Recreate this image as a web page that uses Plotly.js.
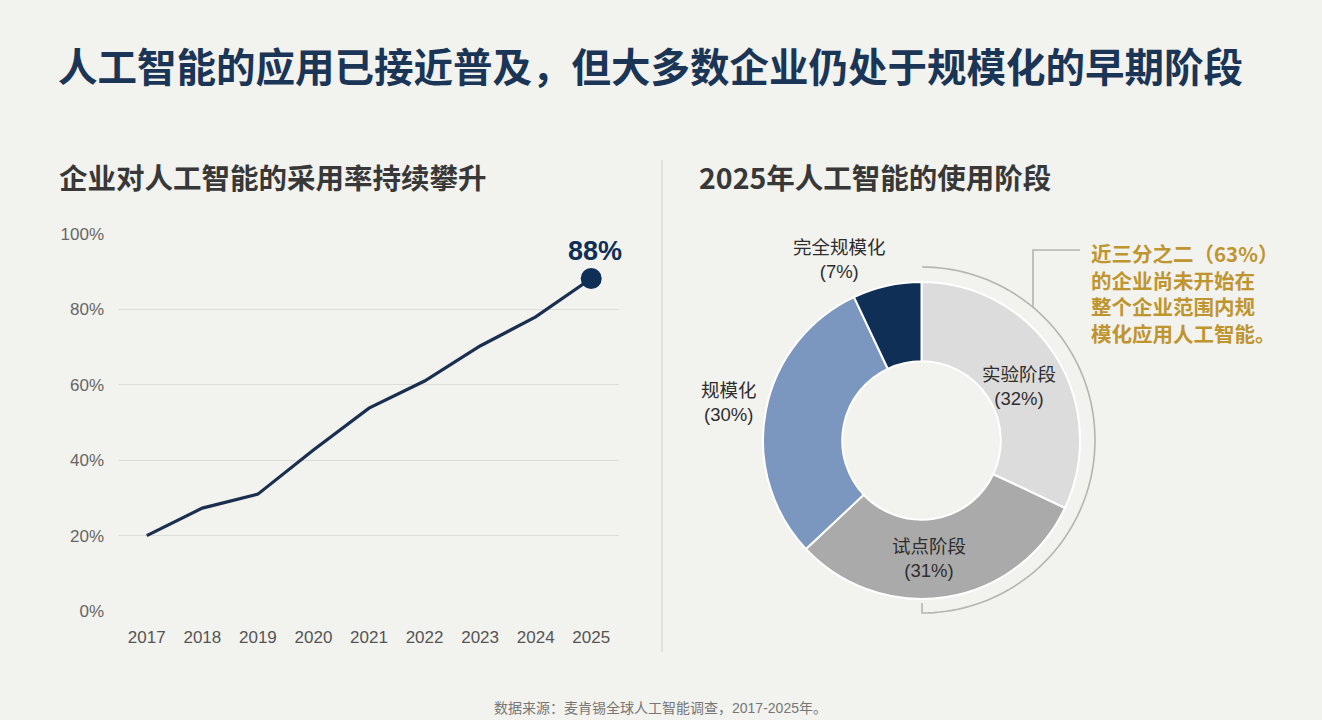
<!DOCTYPE html>
<html><head><meta charset="utf-8">
<script src="https://cdn.plot.ly/plotly-3.0.1.min.js"></script>
<style>html,body{margin:0;padding:0;background:#f2f2ee;}#chart{width:1322px;height:720px;}</style>
</head><body><div id="chart"></div>
<script>
// ---- data ----
const years = ['2017','2018','2019','2020','2021','2022','2023','2024','2025'];
const adoption = [20, 27.3, 31, 42.7, 53.8, 61, 70.3, 78, 88.2];
const yTicks = [0, 20, 40, 60, 80, 100];
const yTickText = ['0%', '20%', '40%', '60%', '80%', '100%'];
const stageLabels = ['实验阶段', '试点阶段', '规模化', '完全规模化'];
const stageValues = [32, 31, 30, 7];
const stageColors = ['#dcdcdc', '#aaaaaa', '#7b97c0', '#0f2f57'];
const headline = '88%';
const noteText = '近三分之二（63%）<br>的企业尚未开始在<br>整个企业范围内规<br>模化应用人工智能。';

const W = 1322, H = 720;
const px = x => x / W, py = y => 1 - y / H;
const FONT = 'Liberation Sans, Arial, "Noto Sans CJK SC", sans-serif';
const last = years.length - 1;

const traces = [
  { type: 'scatter', mode: 'lines', x: years, y: adoption,
    line: { color: '#1a2f50', width: 3.2 }, hoverinfo: 'skip', showlegend: false, cliponaxis: false },
  { type: 'scatter', mode: 'markers', x: [years[last]], y: [adoption[last]],
    marker: { color: '#0f2f57', size: 21 }, hoverinfo: 'skip', showlegend: false, cliponaxis: false },
  { type: 'pie', labels: stageLabels, values: stageValues, hole: 0.5, sort: false,
    direction: 'clockwise', rotation: 0, textinfo: 'none', hoverinfo: 'skip', showlegend: false,
    marker: { colors: stageColors, line: { color: '#ffffff', width: 2 } },
    domain: { x: [px(763), px(1080)], y: [py(599), py(282)] } }
];

// decorative bracket arc around the not-yet-scaled segments
const cx = 922, cy = 440, R = 173;
let arc = `M ${px(cx)} ${py(cy - R)}`;
for (let i = 1; i <= 90; i++) {
  const a = -Math.PI / 2 + Math.PI * i / 90;
  arc += ` L ${px(cx + R * Math.cos(a))} ${py(cy + R * Math.sin(a))}`;
}
arc += ` L ${px(cx)} ${py(cy + R - 10)}`;
const bx = 1033;
const by = cy - Math.sqrt(R * R - (bx - cx) * (bx - cx));
const bracket = `M ${px(1080)} ${py(250)} L ${px(bx)} ${py(250)} L ${px(bx)} ${py(by)}`;

const donutAnn = [
  [1019, 386], [929, 558], [729, 402], [839, 259]
].map((p, i) => ({
  xref: 'paper', yref: 'paper', x: px(p[0]), y: py(p[1]), xanchor: 'center', yanchor: 'middle',
  text: stageLabels[i] + '<br>(' + stageValues[i] + '%)', showarrow: false, align: 'center',
  font: { family: FONT, size: 18.5, color: '#2e2e2e' }
}));

const layout = {
  width: W, height: H,
  margin: { l: 0, r: 0, t: 0, b: 0 },
  paper_bgcolor: '#f2f2ee', plot_bgcolor: 'rgba(0,0,0,0)',
  font: { family: FONT },
  title: { text: '人工智能的应用已接近普及，但大多数企业仍处于规模化的早期阶段',
    x: px(58), xanchor: 'left', xref: 'paper', y: py(68), yanchor: 'middle', yref: 'paper',
    font: { family: '"Noto Sans CJK SC", sans-serif', size: 39.5, color: '#1a3556', weight: 'bold' } },
  xaxis: { domain: [px(119), px(619)], type: 'category', range: [-0.5, 8.5],
    showgrid: false, zeroline: false, showline: false, ticks: '',
    tickfont: { family: FONT, size: 17, color: '#555555' }, ticklabelstandoff: 14, fixedrange: true },
  yaxis: { domain: [py(611), py(234)], range: [0, 100], tickmode: 'array', tickvals: yTicks, ticktext: yTickText,
    showgrid: true, gridcolor: '#dcdcd8', gridwidth: 1, zeroline: false, showline: false, ticks: '',
    tickfont: { family: FONT, size: 17, color: '#666666' }, ticklabelstandoff: 14, fixedrange: true },
  shapes: [
    { type: 'line', xref: 'paper', yref: 'paper', x0: px(662), x1: px(662), y0: py(160), y1: py(652),
      line: { color: '#d6d6d2', width: 1.2 } },
    { type: 'path', xref: 'paper', yref: 'paper', path: arc, line: { color: '#b4b4b0', width: 1.6 } },
    { type: 'path', xref: 'paper', yref: 'paper', path: bracket, line: { color: '#b4b4b0', width: 1.6 } }
  ],
  annotations: [
    { xref: 'paper', yref: 'paper', x: px(57), y: py(176), xanchor: 'left', yanchor: 'middle',
      text: '企业对人工智能的采用率持续攀升', showarrow: false,
      font: { family: '"Noto Sans CJK SC", sans-serif', size: 28.5, color: '#383838', weight: 'bold' } },
    { xref: 'paper', yref: 'paper', x: px(697), y: py(176), xanchor: 'left', yanchor: 'middle',
      text: '2025年人工智能的使用阶段', showarrow: false,
      font: { family: '"Noto Sans CJK SC", sans-serif', size: 28.5, color: '#383838', weight: 'bold' } },
    { xref: 'x', yref: 'y', x: last, y: adoption[last],
      text: headline, showarrow: false, yshift: 27, xshift: 4, xanchor: 'center', yanchor: 'middle',
      font: { family: FONT, size: 27, color: '#0f2f57', weight: 'bold' } },
    { xref: 'paper', yref: 'paper', x: px(1089), y: py(236), xanchor: 'left', yanchor: 'top',
      text: noteText, showarrow: false, align: 'left',
      font: { family: '"Noto Sans CJK SC", sans-serif', size: 20.5, color: '#bf9530', weight: 'bold' } },
    { xref: 'paper', yref: 'paper', x: px(660), y: py(708), xanchor: 'center', yanchor: 'middle',
      text: '数据来源：麦肯锡全球人工智能调查，2017-2025年。', showarrow: false,
      font: { family: FONT, size: 14, color: '#777777' } }
  ].concat(donutAnn)
};

Plotly.newPlot('chart', traces, layout, { displayModeBar: false, staticPlot: true });
</script></body></html>
